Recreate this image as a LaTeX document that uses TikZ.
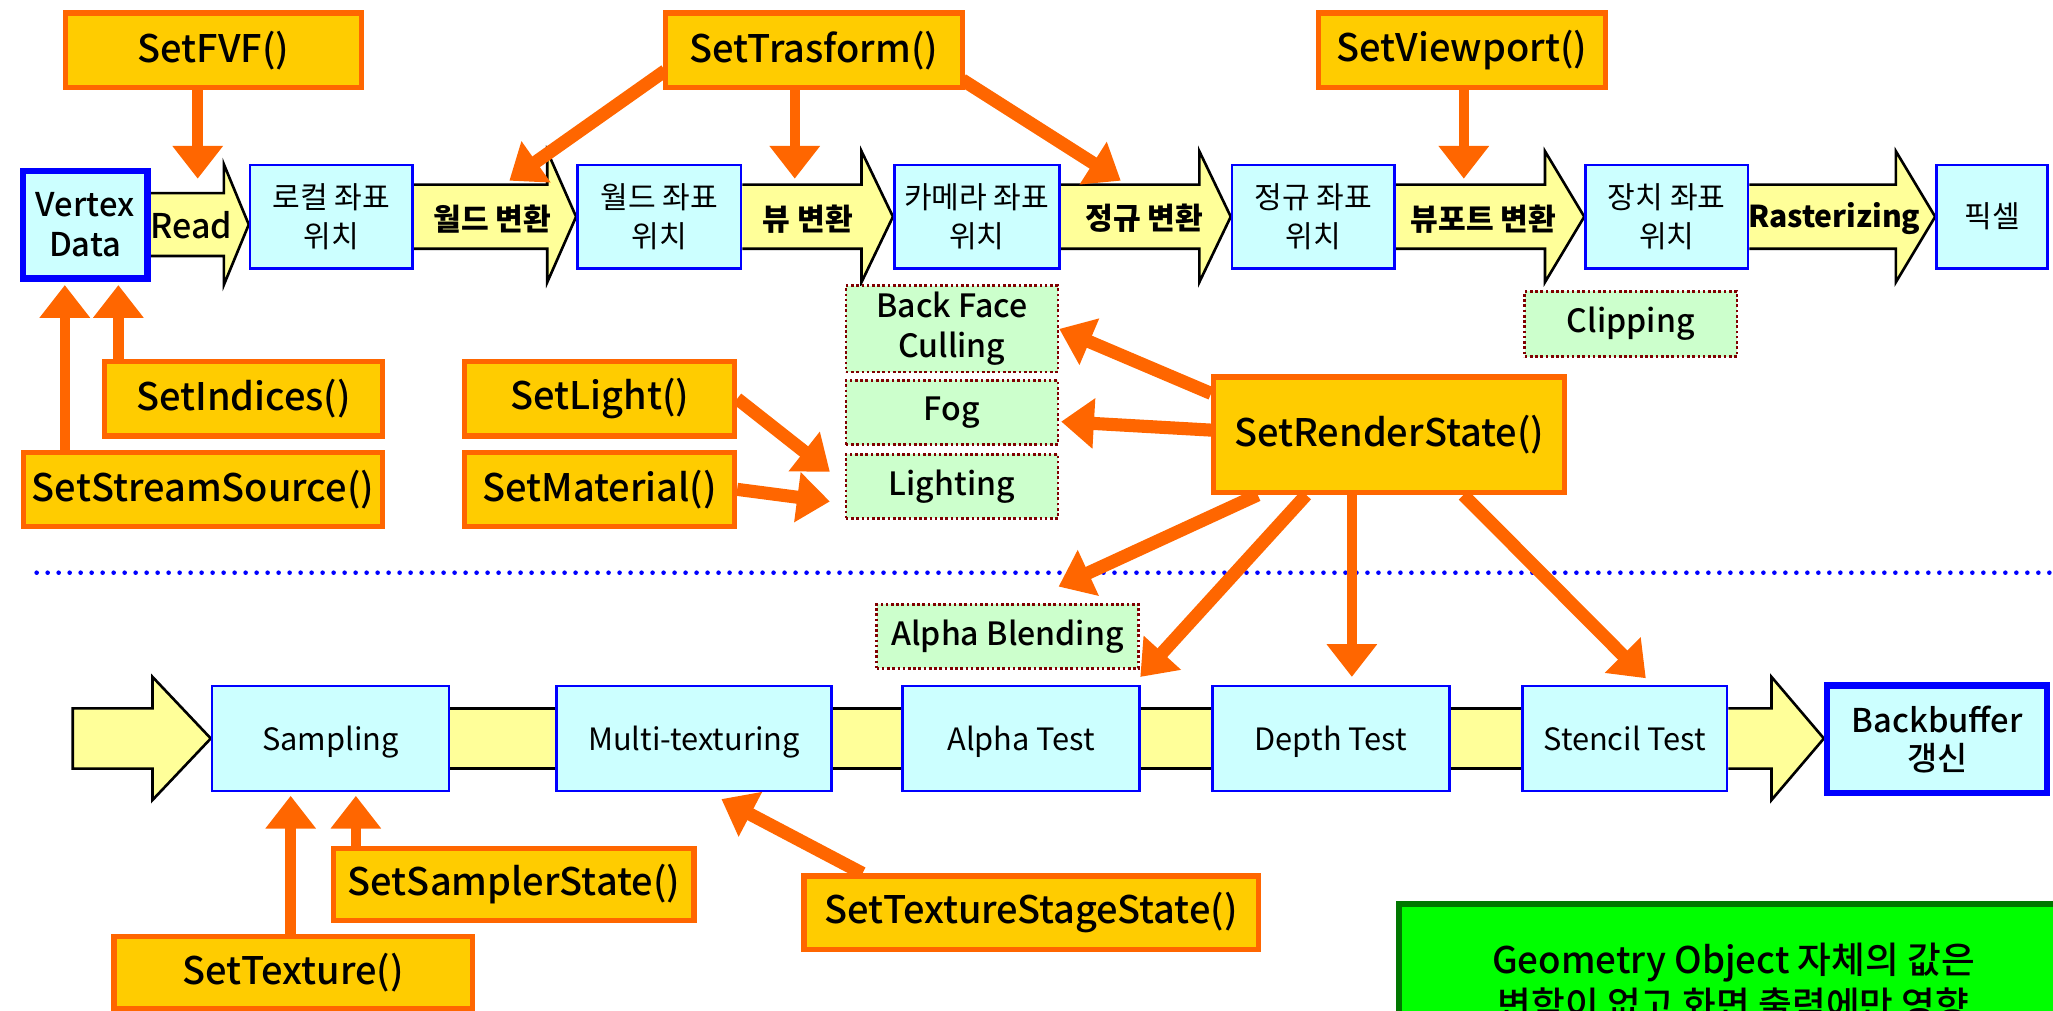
\documentclass[tikz,border=0pt]{standalone}
\usepackage{fontspec}
\setmainfont{Noto Sans CJK KR}
\newfontfamily\krm{Noto Sans CJK KR Medium}
\usetikzlibrary{arrows.meta,calc}
\definecolor{cyanF}{HTML}{CCFFFF}
\definecolor{boxBlue}{HTML}{0000FF}
\definecolor{yelF}{HTML}{FFFF99}
\definecolor{orL}{HTML}{FF6600}
\definecolor{orF}{HTML}{FFCC00}
\definecolor{grF}{HTML}{CCFFCC}
\definecolor{grD}{HTML}{800000}
\definecolor{noteF}{HTML}{00FF00}
\definecolor{noteD}{HTML}{007700}
\pgfdeclarelayer{bg}\pgfdeclarelayer{arr}\pgfdeclarelayer{fg}
\pgfsetlayers{bg,main,arr,fg}

\newcommand\fatarrow[5]{%
 \filldraw[yarrow] let \p1=(#1), \p2=(#2) in
 (\x1,\y1+#4pt) -- (\x2-#3pt,\y1+#4pt) -- (\x2-#3pt,\y1+#5pt) -- (\x2,\y1)
 -- (\x2-#3pt,\y1-#5pt) -- (\x2-#3pt,\y1-#4pt) -- (\x1,\y1-#4pt);}
\newcommand\yelstrip[2]{%
 \fill[yelF] let \p1=(#1), \p2=(#2) in (\x1,\y1+23pt) rectangle (\x2,\y1-23pt);
 \draw[line width=2pt] let \p1=(#1), \p2=(#2) in (\x1,\y1+23pt) -- (\x2,\y1+23pt) (\x1,\y1-23pt) -- (\x2,\y1-23pt);}

\begin{document}
\begin{tikzpicture}[x=1pt,y=-1pt,
 cbox/.style={draw=boxBlue,line width=2pt,fill=cyanF,inner sep=0pt,align=center},
 topc/.style={cbox,minimum height=79pt,font=\fontsize{23}{30.5}\selectfont},
 botc/.style={cbox,minimum height=80pt,text depth=0pt,font=\fontsize{23.5}{28}\selectfont},
 obox/.style={draw=orL,line width=4pt,fill=orF,inner sep=0pt,align=center,font=\krm\fontsize{29}{34}\selectfont},
 gbox/.style={draw=grD,dash pattern=on 2pt off 2pt,line width=2pt,fill=grF,inner sep=0pt,align=center,font=\krm\fontsize{24.5}{30.5}\selectfont},
 alab/.style={inner sep=0pt,font=\bfseries\fontsize{23}{28}\selectfont},
 yarrow/.style={draw=black,line width=2pt,fill=yelF,line join=miter},
 oarr/.style={draw=orL,line width=8pt,-{Triangle[length=25pt,width=37pt]}},
 oarrd/.style={oarr,line width=10pt},
]
\useasboundingbox (0,0) rectangle (1568,772);

% orange function boxes (top layer)
\begin{pgfonlayer}{fg}
\node[obox,minimum width=226pt,minimum height=57pt] (fvf) at (163,38.5) {SetFVF()};
\node[obox,minimum width=227pt,minimum height=57pt] (trans) at (621.5,38.5) {SetTrasform()};
\node[obox,minimum width=219pt,minimum height=57pt] (vp) at (1116.5,38.5) {SetViewport()};
\node[obox,minimum width=212pt,minimum height=57pt] (idx) at (186,304.5) {SetIndices()};
\node[obox,minimum width=274pt,minimum height=56.5pt] (ss) at (155,373.75) {SetStreamSource()};
\node[obox,minimum width=206pt,minimum height=57pt] (light) at (458,304.5) {SetLight()};
\node[obox,minimum width=206pt,minimum height=56.5pt] (mat) at (458,373.75) {SetMaterial()};
\node[obox,minimum width=268pt,minimum height=88pt] (rs) at (1061,332) {SetRenderState()};
\node[obox,minimum width=275pt,minimum height=55pt] (sst) at (392.5,675.5) {SetSamplerState()};
\node[obox,minimum width=274pt,minimum height=55pt] (tex) at (224,742.5) {SetTexture()};
\node[obox,minimum width=347pt,minimum height=56pt] (tss) at (787.5,697) {SetTextureStageState()};
\end{pgfonlayer}

% top pipeline
\node[cbox,line width=5pt,minimum width=95pt,minimum height=82pt,font=\krm\fontsize{25}{31}\selectfont] (vd) at (65,171.5) {Vertex\\Data};
\node[topc,minimum width=124pt] (local) at (253,165.5) {로컬 좌표\\위치};
\node[topc,minimum width=125pt] (world) at (503.5,165.5) {월드 좌표\\위치};
\node[topc,minimum width=126pt] (cam) at (746,165.5) {카메라 좌표\\위치};
\node[topc,minimum width=124pt] (norm) at (1003,165.5) {정규 좌표\\위치};
\node[topc,minimum width=124pt] (dev) at (1273,165.5) {장치 좌표\\위치};
\node[topc,minimum width=85pt] (pix) at (1521.5,165.5) {픽셀};

\node[alab,font=\krm\fontsize{26}{28}\selectfont] (lread) at (146,172) {Read};
\node[alab] (lwt) at (376,167) {월드 변환};
\node[alab] (lvt) at (617,167) {뷰 변환};
\node[alab] (lnt) at (874,167) {정규 변환};
\node[alab] (lvpt) at (1133,167) {뷰포트 변환};
\node[alab] (lras) at (1401,167) {Rasterizing};

% render state boxes
\node[gbox,minimum width=162pt,minimum height=66pt] (bfc) at (727,251.2) {Back Face\\Culling};
\node[gbox,minimum width=162pt,minimum height=49pt] (fog) at (727,315) {Fog};
\node[gbox,minimum width=162pt,minimum height=49pt] (lit) at (727,371.4) {Lighting};
\node[gbox,minimum width=162pt,minimum height=50pt] (clip) at (1245.5,247.5) {Clipping};
\node[gbox,minimum width=200pt,minimum height=49pt] (ab) at (769.5,486) {Alpha Blending};

% separator
\coordinate (sepL) at (28,437.4);
\coordinate (sepR) at (1568,437.4);
\draw[boxBlue,line width=3.5pt,line cap=round,dash pattern=on 0pt off 8.4pt] (sepL) -- (sepR);

% bottom pipeline
\node[botc,minimum width=181pt] (samp) at (252.5,564) {Sampling};
\node[botc,minimum width=210pt] (multi) at (530,564) {Multi-texturing};
\node[botc,minimum width=181pt] (at) at (780,564) {Alpha Test};
\node[botc,minimum width=181pt] (dt) at (1016.5,564) {Depth Test};
\node[botc,minimum width=156pt] (st) at (1241,564) {Stencil Test};
\node[cbox,line width=5pt,minimum width=168pt,minimum height=82pt,font=\krm\fontsize{25}{29}\selectfont] (bb) at (1479.5,564.5) {Backbuffer\\갱신};

\node[draw=noteD,line width=5pt,fill=noteF,minimum width=511pt,minimum height=119pt,inner sep=0pt,align=center,font=\krm\fontsize{28}{34.5}\selectfont] (note) at (1324,750) {Geometry Object 자체의 값은\\변함이 없고 화면 출력에만 영향};

% yellow block arrows
\begin{pgfonlayer}{bg}
\fatarrow{vd.east}{local.west}{19}{24}{46}
\fatarrow{local.east}{world.west}{22}{24.5}{50}
\fatarrow{world.east}{cam.west}{24}{24.5}{50}
\fatarrow{cam.east}{norm.west}{24}{24.5}{50}
\fatarrow{norm.east}{dev.west}{30}{24.5}{50}
\fatarrow{dev.east}{pix.west}{30}{24.5}{50}
\coordinate (inS) at (55.6,564);
\filldraw[yarrow] let \p1=(inS), \p2=(samp.west) in (\x1,\y1+23pt) -- (\x2-44.5pt,\y1+23pt) -- (\x2-44.5pt,\y1+47pt) -- (\x2,\y1) -- (\x2-44.5pt,\y1-47pt) -- (\x2-44.5pt,\y1-23pt) -- (\x1,\y1-23pt) -- cycle;
\yelstrip{samp.east}{multi.west}
\yelstrip{multi.east}{at.west}
\yelstrip{at.east}{dt.west}
\yelstrip{dt.east}{st.west}
\fatarrow{st.east}{bb.west}{40}{23}{47}
\end{pgfonlayer}

% orange arrows
\begin{pgfonlayer}{arr}
\coordinate (readIn) at (151,136.5);
\draw[oarr] (fvf.south -| readIn) -- (readIn);
\coordinate (wtIn) at (389,138);
\draw[oarrd] ($(trans.west)+(2,15.5)$) -- (wtIn);
\coordinate (vtIn) at (607,136.5);
\draw[oarr] (trans.south -| vtIn) -- (vtIn);
\coordinate (ntIn) at (856,138);
\draw[oarrd] ($(trans.south east)+(-2,-8)$) -- (ntIn);
\coordinate (vptIn) at (1118,136.5);
\draw[oarr] (vp.south -| vptIn) -- (vptIn);
\coordinate (vdA) at (49.5,217.7);
\coordinate (vdB) at (90.4,217.7);
\draw[oarr] (ss.north -| vdA) -- (vdA);
\draw[oarr] (idx.north -| vdB) -- (vdB);
\coordinate (litA) at (633.8,360.3);
\coordinate (litB) at (633.8,383);
\draw[oarrd] (light.east) -- (litA);
\draw[oarrd] (mat.east) -- (litB);
\draw[oarrd] ($(rs.west)+(0,-31.5)$) -- (bfc.east);
\coordinate (fogIn) at (810.5,322);
\draw[oarrd] ($(rs.west)+(0,-3.5)$) -- (fogIn);
\coordinate (abIn) at (808.5,448);
\draw[oarrd] ($(rs.south west)+(35.6,0)$) -- (abIn);
\coordinate (atIn) at (870.9,517);
\draw[oarrd] ($(rs.south west)+(72.6,0)$) -- (atIn);
\coordinate (dtIn) at (1032.5,517);
\draw[oarr] (rs.south -| dtIn) -- (dtIn);
\coordinate (stIn) at (1257,518);
\draw[oarrd] ($(rs.south west)+(192.7,0)$) -- (stIn);
\coordinate (sampA) at (222,607.8);
\coordinate (sampB) at (271.8,607.8);
\draw[oarr] (tex.north -| sampA) -- (sampA);
\draw[oarr] (sst.north -| sampB) -- (sampB);
\coordinate (mtIn) at (551,610.3);
\draw[oarrd] ($(tss.north west)+(46.7,0)$) -- (mtIn);
\end{pgfonlayer}
\end{tikzpicture}
\end{document}
